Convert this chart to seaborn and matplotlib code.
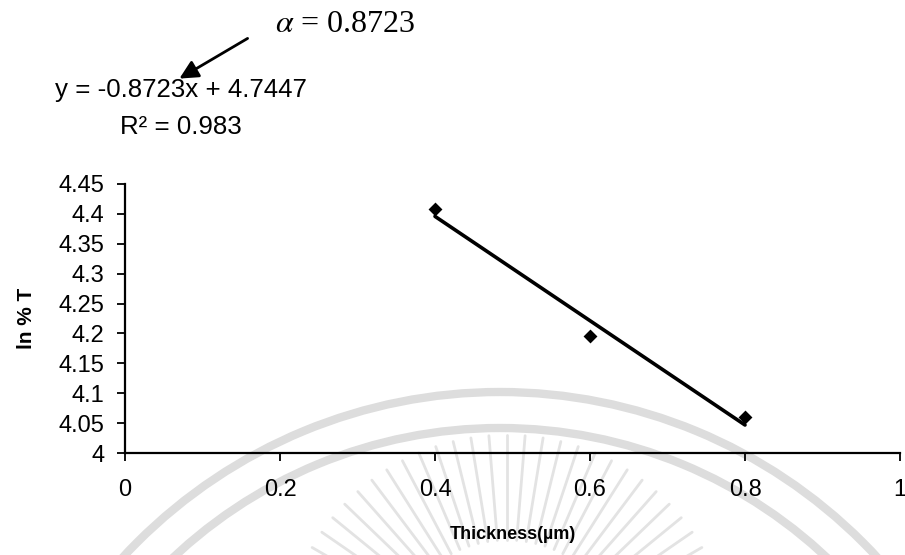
import numpy as np
import pandas as pd
import matplotlib
matplotlib.use("Agg")
import matplotlib.pyplot as plt
from matplotlib.patches import Arc
import seaborn as sns

# Measured data: film thickness vs ln(%T)
thickness = [0.4, 0.6, 0.8]
ln_T = [4.409, 4.195, 4.060]
x_ticks = [0, 0.2, 0.4, 0.6, 0.8, 1]
x_tick_labels = ["0", "0.2", "0.4", "0.6", "0.8", "1"]
y_ticks = [4.0, 4.05, 4.1, 4.15, 4.2, 4.25, 4.3, 4.35, 4.4, 4.45]
y_tick_labels = ["4", "4.05", "4.1", "4.15", "4.2", "4.25", "4.3", "4.35", "4.4", "4.45"]
fit_text = "y = -0.8723x + 4.7447"
r2_text = "R\u00b2 = 0.983"
alpha_text = r"$\alpha$ = 0.8723"

df = pd.DataFrame({"Thickness": thickness, "lnT": ln_T})

sns.set_theme(style="white")
plt.rcParams["font.family"] = ["Liberation Sans", "DejaVu Sans"]

W, H = 905, 555
fig = plt.figure(figsize=(W / 100, H / 100), dpi=100)
fig.patch.set_facecolor("white")

# faint emblem in the background
bg = fig.add_axes([0, 0, 1, 1], zorder=0)
bg.set_xlim(0, W)
bg.set_ylim(H, 0)
bg.axis("off")
wm = "#dddddd"
cx, cy = 500, 905
for r in (513, 477):
    bg.add_patch(Arc((cx, cy), 2 * r, 2 * r, theta1=0, theta2=360,
                     color=wm, lw=6, zorder=0))
rx, ry = 507, 660
for ang in np.linspace(30, 150, 27):
    a = np.deg2rad(ang)
    r1, r2 = 120, 225
    bg.plot([rx + r1 * np.cos(a), rx + r2 * np.cos(a)],
            [ry - r1 * np.sin(a), ry - r2 * np.sin(a)],
            color="#e3e3e3", lw=2.0, zorder=0, solid_capstyle="round")

ax = fig.add_axes([125 / W, 1 - 453 / H, 775 / W, 269 / H], zorder=1)
ax.patch.set_alpha(0)

sns.regplot(data=df, x="Thickness", y="lnT", ax=ax, ci=None, marker="D",
            scatter_kws={"color": "black", "edgecolor": "black",
                         "linewidths": 0, "s": 50, "alpha": 1, "zorder": 3},
            line_kws={"color": "black", "lw": 2.6, "zorder": 2})

ax.set_xlim(0, 1)
ax.set_ylim(4.0, 4.45)
ax.set_xticks(x_ticks)
ax.set_xticklabels(x_tick_labels)
ax.set_yticks(y_ticks)
ax.set_yticklabels(y_tick_labels)

for s in ("top", "right"):
    ax.spines[s].set_visible(False)
for s in ("left", "bottom"):
    ax.spines[s].set_color("black")
    ax.spines[s].set_linewidth(1.6)

ax.tick_params(axis="both", which="major", direction="out", length=6,
               width=1.3, color="black", labelsize=17, labelcolor="black",
               left=True, bottom=True)
ax.tick_params(axis="x", pad=13)
ax.tick_params(axis="y", pad=9)

ax.set_xlabel("Thickness(\u00b5m)", fontsize=13, fontweight="bold",
              color="black", labelpad=18)
ax.set_ylabel("ln % T", fontsize=15, fontweight="bold", color="black",
              labelpad=16)

# trendline equation and R²
fig.text(55 / W, 1 - 90 / H, fit_text, fontsize=18.6, ha="left", va="center",
         color="black")
fig.text(120 / W, 1 - 127 / H, r2_text, fontsize=18.6, ha="left", va="center",
         color="black")
fig.text(275 / W, 1 - 25 / H, alpha_text, fontsize=23, ha="left", va="center",
         color="black", family="Liberation Serif", math_fontfamily="stix")

ax.annotate("", xy=(177, H - 80), xycoords="figure pixels",
            xytext=(250, H - 37), textcoords="figure pixels",
            arrowprops=dict(arrowstyle="-|>", color="black", lw=2,
                            mutation_scale=28))

fig.savefig("out.png", dpi=100)
